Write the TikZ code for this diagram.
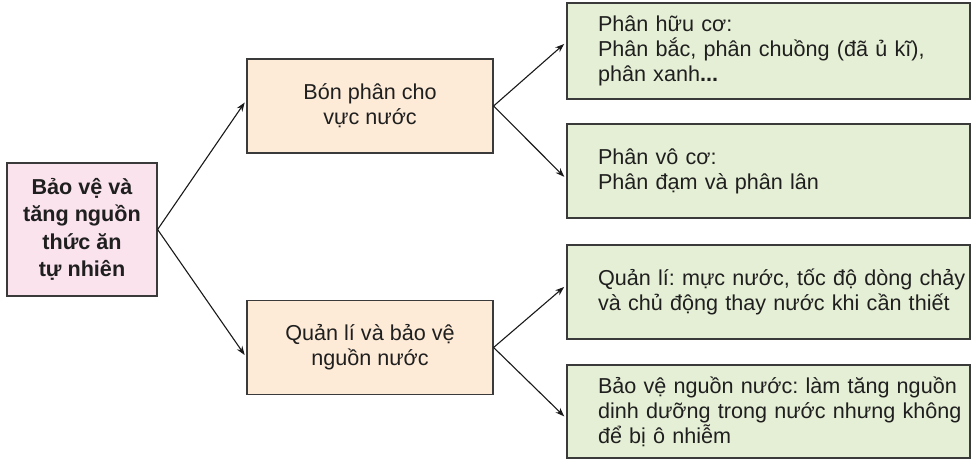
\documentclass[tikz,border=0pt]{standalone}
\usepackage{fontspec}
\setmainfont{Liberation Sans}
\usepackage{tikz}
\usetikzlibrary{arrows.meta}
\frenchspacing

\definecolor{hongnhat}{HTML}{FBE3EE}
\definecolor{camnhat}{HTML}{FDEAD7}
\definecolor{xanhnhat}{HTML}{E5EFD5}
\definecolor{vien}{HTML}{3A3A3A}

\begin{document}
\begin{tikzpicture}[x=1pt, y=1pt, >={Stealth[length=9pt,width=6.5pt]},
    hop/.style={draw=vien, line width=1.2pt, text=black!88},
    goc/.style={hop, fill=hongnhat, align=center, minimum width=150pt, minimum height=133pt,
        font=\bfseries\fontsize{21.6}{27.5}\selectfont},
    giua/.style={hop, fill=camnhat, align=center, minimum width=246pt, minimum height=94pt,
        font=\fontsize{21.6}{25}\selectfont},
    la/.style={hop, fill=xanhnhat, align=left, text width=403pt, inner xsep=0pt, minimum height=94pt,
        font=\fontsize{21.6}{25}\selectfont, execute at begin node={\leftskip=31pt}},
    mui/.style={->, line width=1.1pt, draw=black!90, shorten >=3pt}]
    \useasboundingbox (0,0) rectangle (973,460);

    % Ô gốc
    \node[goc] (goc) at (82,230.5) {Bảo vệ và\\tăng nguồn\\thức ăn\\tự nhiên};

    % Hai nhánh giữa
    \node[giua] (bonphan) at (370,354) {Bón phân cho\\vực nước};
    \node[giua] (quanli) at (370,112.5) {Quản lí và bảo vệ\\nguồn nước};

    % Các ô bên phải
    \node[la, minimum height=96pt] (huuco) at (768.5,409) {Phân hữu cơ:\\Phân bắc, phân chuồng (đã ủ kĩ),\\phân xanh\textbf{...}};
    \node[la] (voco) at (768.5,289) {Phân vô cơ:\\Phân đạm và phân lân};
    \node[la] (mucnuoc) at (768.5,168) {Quản lí: mực nước, tốc độ dòng chảy\\và chủ động thay nước khi cần thiết};
    \node[la, minimum height=93pt] (baove) at (768.5,48.5) {Bảo vệ nguồn nước: làm tăng nguồn\\dinh dưỡng trong nước nhưng không\\để bị ô nhiễm};

    % Mũi tên
    \draw[mui] (goc.east) -- ([yshift=6pt]bonphan.west);
    \draw[mui] (goc.east) -- ([yshift=-10pt]quanli.west);
    \draw[mui] (bonphan.east) -- ([yshift=9pt]huuco.west);
    \draw[mui] (bonphan.east) -- ([yshift=-8pt]voco.west);
    \draw[mui] (quanli.east) -- ([yshift=7pt]mucnuoc.west);
    \draw[mui] (quanli.east) -- ([yshift=-7pt]baove.west);
\end{tikzpicture}
\end{document}
